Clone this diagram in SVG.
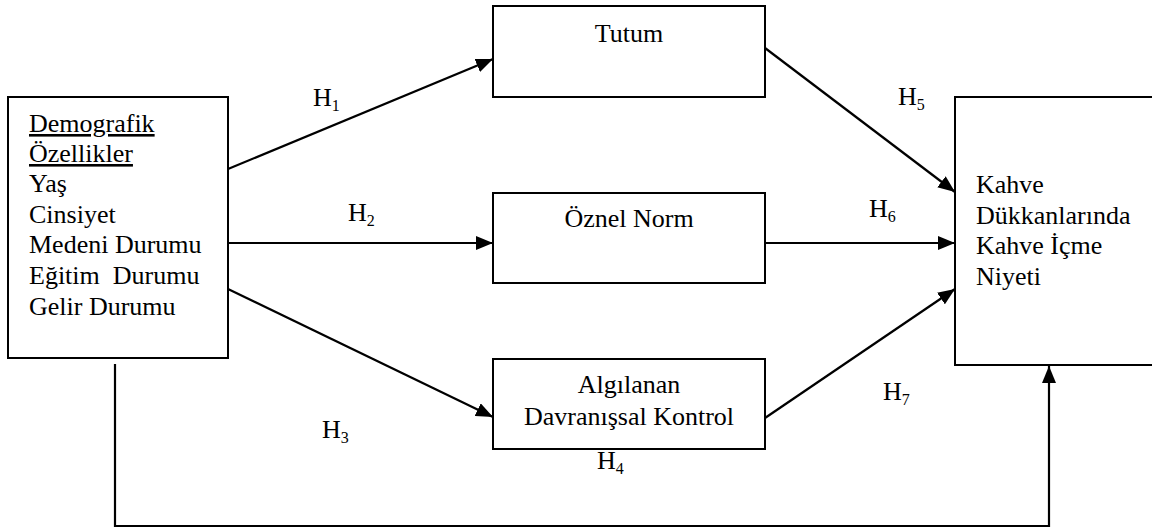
<svg xmlns="http://www.w3.org/2000/svg" width="1152" height="528" viewBox="0 0 1152 528">
<style>
text{font-family:'Liberation Serif','Times New Roman',serif;font-size:26px;fill:#000}
.box{fill:#fff;stroke:#000;stroke-width:2}
.c{fill:none;stroke:#000;stroke-width:2.2}
.s{font-size:16px}
.u{text-decoration:underline}
</style>
<defs>
<marker id="ah" markerUnits="userSpaceOnUse" markerWidth="18" markerHeight="14" refX="17" refY="7" orient="auto">
<path d="M0,0 L17,7 L0,14 Z" fill="#000"/>
</marker>
</defs>
<rect width="1152" height="528" fill="#fff"/>
<g id="connectors">
<line class="c" x1="228" y1="169" x2="493" y2="59" marker-end="url(#ah)"/>
<line class="c" x1="228" y1="243" x2="493" y2="243" marker-end="url(#ah)"/>
<line class="c" x1="228" y1="289" x2="493" y2="417" marker-end="url(#ah)"/>
<line class="c" x1="765" y1="48" x2="955" y2="192" marker-end="url(#ah)"/>
<line class="c" x1="765" y1="243" x2="955" y2="243" marker-end="url(#ah)"/>
<line class="c" x1="765" y1="418" x2="955" y2="289" marker-end="url(#ah)"/>
<polyline class="c" points="115,364 115,526 1049,526 1049,366" marker-end="url(#ah)"/>
</g>
<g id="labels">
<text x="313" y="106">H<tspan class="s" dy="5">1</tspan></text>
<text x="348" y="221">H<tspan class="s" dy="5">2</tspan></text>
<text x="322" y="438">H<tspan class="s" dy="5">3</tspan></text>
<text x="597" y="469">H<tspan class="s" dy="5">4</tspan></text>
<text x="898" y="105">H<tspan class="s" dy="5">5</tspan></text>
<text x="869" y="217">H<tspan class="s" dy="5">6</tspan></text>
<text x="883" y="400">H<tspan class="s" dy="5">7</tspan></text>
</g>
<g id="demografik">
<rect class="box" x="8" y="97" width="220" height="261"/>
<text x="29" y="132" class="u">Demografik</text>
<text x="29" y="162" class="u">Özellikler</text>
<text x="29" y="192">Yaş</text>
<text x="29" y="223">Cinsiyet</text>
<text x="29" y="253">Medeni Durumu</text>
<text x="29" y="284" xml:space="preserve">Eğitim  Durumu</text>
<text x="29" y="315">Gelir Durumu</text>
</g>
<g id="tutum">
<rect class="box" x="493" y="6" width="272" height="91"/>
<text x="629" y="42" text-anchor="middle">Tutum</text>
</g>
<g id="oznel-norm">
<rect class="box" x="493" y="193" width="272" height="90"/>
<text x="629" y="227" text-anchor="middle">Öznel Norm</text>
</g>
<g id="algilanan">
<rect class="box" x="493" y="359" width="272" height="90"/>
<text x="629" y="393" text-anchor="middle">Algılanan</text>
<text x="629" y="425" text-anchor="middle">Davranışsal Kontrol</text>
</g>
<g id="niyet">
<rect class="box" x="955" y="97" width="210" height="268"/>
<text x="976" y="193">Kahve</text>
<text x="976" y="224">Dükkanlarında</text>
<text x="976" y="254">Kahve İçme</text>
<text x="976" y="285">Niyeti</text>
</g>
</svg>
